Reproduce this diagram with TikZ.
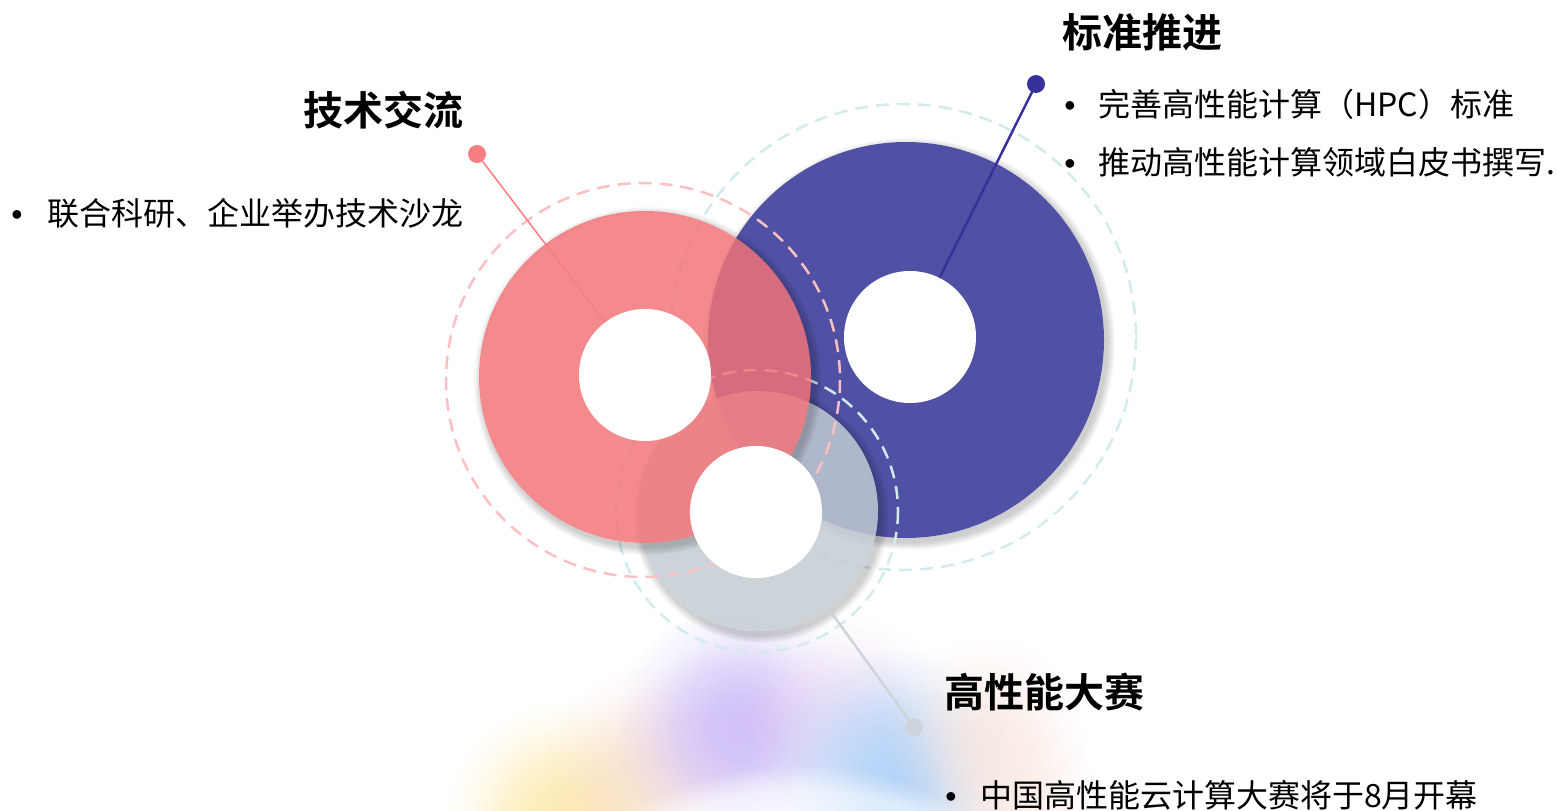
\documentclass[tikz,border=0pt]{standalone}
\usepackage{fontspec}
\newfontfamily\cjk{Noto Sans CJK SC}[BoldFont={Noto Sans CJK SC Bold}]
\newfontfamily\bulfont{Liberation Sans}
\usetikzlibrary{fadings}
\pgfdeclareradialshading{softglowsh}{\pgfpointorigin}{color(0bp)=(white); color(7bp)=(black!12); color(13bp)=(black!40); color(19bp)=(black!78); color(25bp)=(black); color(50bp)=(black)}
\pgfdeclarefading{softglow}{\pgfuseshading{softglowsh}}
\pgfdeclareradialshading{softdiscsh}{\pgfpointorigin}{color(0bp)=(white); color(23bp)=(white); color(25bp)=(black); color(50bp)=(black)}
\pgfdeclarefading{softdisc}{\pgfuseshading{softdiscsh}}
\definecolor{ringpink}{RGB}{242,115,120}
\definecolor{ringblue}{RGB}{80,81,164}
\definecolor{ringgray}{RGB}{195,204,210}
\definecolor{linepink}{RGB}{247,125,130}
\definecolor{lineblue}{RGB}{54,50,154}
\definecolor{linegray}{RGB}{205,213,218}
\definecolor{dashpink}{RGB}{250,192,194}
\definecolor{dashteal}{RGB}{212,235,238}
\definecolor{gyellow}{RGB}{253,236,180}
\definecolor{gpeach}{RGB}{246,214,200}
\definecolor{gpurple}{RGB}{208,192,248}
\definecolor{glav}{RGB}{234,214,242}
\definecolor{gblue}{RGB}{180,212,248}
\definecolor{gpink}{RGB}{250,230,222}
\newcommand\glowblob[5]{\fill[#4,opacity=#5,path fading=softglow] (#1,#2) circle (#3);}
\newcommand\ringshade[3]{%
  \foreach \k in {0,...,7}{\fill[black,opacity=0.022,even odd rule] (#1+3,#2+4) circle ({#3+8-\k}) (#1,#2) circle (#3);}}
\tikzset{
  disc/.style={circle,inner sep=0pt,draw=none},
  hole/.style={circle,inner sep=0pt,fill=white,minimum size=132pt},
  ringdash/.style={line width=2.5pt,dash pattern=on 13pt off 8pt},
  pin/.style={circle,inner sep=0pt,minimum size=18pt},
  head/.style={inner sep=0pt,font=\cjk\bfseries\fontsize{40}{44}\selectfont},
  body/.style={inner sep=0pt,font=\cjk\fontsize{32}{36}\selectfont},
  bul/.style={inner sep=0pt,anchor=base,font=\bulfont\fontsize{32}{36}\selectfont}
}
\begin{document}
\begin{tikzpicture}[x=1pt,y=-1pt]
\fill[white] (0,0) rectangle (1558,811);
\useasboundingbox (0,0) rectangle (1558,811);
% glow at the bottom
\glowblob{565}{820}{120}{gyellow}{1}
\glowblob{650}{770}{105}{gpeach}{0.6}
\glowblob{740}{728}{125}{gpurple}{1}
\glowblob{845}{712}{100}{glav}{0.6}
\glowblob{895}{778}{130}{gblue}{1}
\glowblob{985}{735}{100}{gpink}{0.7}
\glowblob{1010}{800}{90}{gpink}{0.6}
\fill[white,opacity=0.55,path fading=softdisc] (800,1090) circle (325);
% blue ring
\ringshade{906}{340}{198}
\node[disc,fill=ringblue,minimum size=396pt] (blueR) at (906,340) {};
\draw[ringdash,dashteal] (903,337) circle (233);
% gray ring
\ringshade{758}{511}{120}
\node[disc,fill=ringgray,fill opacity=0.83,minimum size=240pt] (grayR) at (758,511) {};
\draw[ringdash,dashteal] (757,511) circle (141);
% pink ring
\ringshade{645}{377}{166}
\node[disc,fill=ringpink,fill opacity=0.83,minimum size=332pt] (pinkR) at (645,377) {};
\draw[ringdash,dashpink] (643,380) circle (197);
% holes
\node[hole] (pinkH) at (645,375) {};
\node[hole] (blueH) at (910,337) {};
\node[hole] (grayH) at (756,512) {};
% pins and connectors
\node[pin,fill=linepink] (pinkP) at (477,154) {};
\node[pin,fill=lineblue] (blueP) at (1036,84) {};
\node[pin,fill=linegray] (grayP) at (914,727) {};
\draw[linepink,line width=1.5pt] (pinkP.center) -- (pinkH);
\draw[lineblue,line width=2.5pt] (blueP.center) -- (blueH);
\draw[linegray,line width=2.5pt] (grayP.center) -- (grayR);
% texts
\node[head,anchor=base east] (h1) at (464,125) {技术交流};
\node[bul] (b1) at (17,225) {•};
\node[body,anchor=base west] (t1) at (47,225) {联合科研、企业举办技术沙龙};
\node[head,anchor=base west] (h2) at (1062,47) {标准推进};
\node[bul] (b2) at (1070,116) {•};
\node[body,anchor=base west] (t2) at (1098,116) {完善高性能计算（HPC）标准};
\node[bul] (b3) at (1070,174) {•};
\node[body,anchor=base west] (t3) at (1098,174) {推动高性能计算领域白皮书撰写.};
\node[head,anchor=base west] (h3) at (944,707) {高性能大赛};
\node[bul] (b4) at (951,807) {•};
\node[body,anchor=base west] (t4) at (980,807) {中国高性能云计算大赛将于8月开幕};
\end{tikzpicture}
\end{document}
